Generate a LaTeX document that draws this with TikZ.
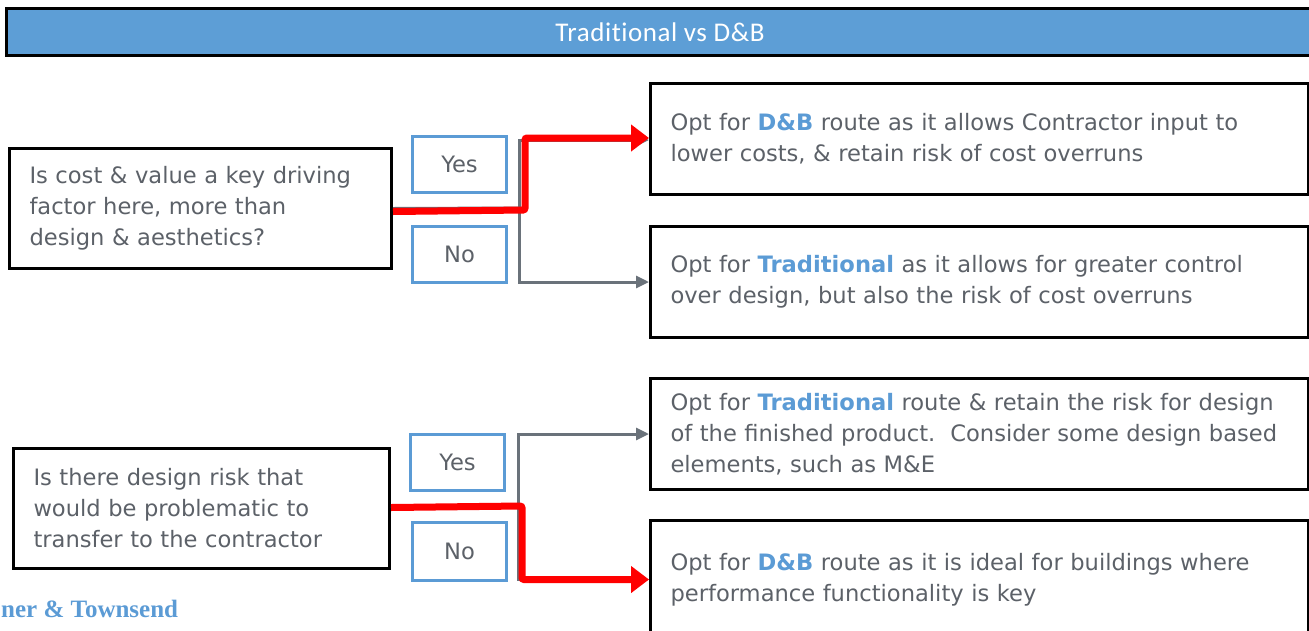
\documentclass[tikz,border=0pt]{standalone}
\usepackage{fontspec}
\setmainfont{DejaVu Sans}
\newfontfamily\hdfont[LetterSpace=2,Ligatures=NoCommon]{Carlito}
\newfontfamily\logofont{Liberation Serif}
\usetikzlibrary{arrows.meta,positioning}
\definecolor{hdblue}{RGB}{93,158,214}
\definecolor{keyblue}{RGB}{91,155,213}
\definecolor{txtgray}{RGB}{92,97,104}
\definecolor{linkgray}{RGB}{106,114,122}
\newcommand{\key}[1]{\textbf{\color{keyblue}#1}}

\begin{document}
\begin{tikzpicture}[x=1pt,y=-1pt,
  every node/.style={font=\fontsize{22.6}{31}\selectfont, text=txtgray},
  qbox/.style={draw=black, line width=3pt, anchor=north west, align=left,
    text width=#1, inner xsep=20pt, minimum height=120pt},
  abox/.style={draw=black, line width=3pt, anchor=north west, align=left,
    text width=618pt, inner xsep=20pt, minimum height=111pt},
  ybox/.style={draw=keyblue, line width=3pt, anchor=north west,
    minimum width=94pt, minimum height=56pt},
  link/.style={draw=linkgray, line width=3pt, -{Triangle[length=13pt,width=12pt]}},
  hot/.style={draw=red, line width=7pt, rounded corners=2pt,
    -{Triangle[length=18pt,width=26pt]}}]
\useasboundingbox (0,0) rectangle (1309,630);

% header
\node[draw=black, line width=3pt, fill=hdblue, anchor=north west,
  minimum width=1307pt, minimum height=47pt,
  font=\hdfont\fontsize{27}{30}\selectfont, text=white] (head) at (5,7) {Traditional vs D\&B};

% first question
\node[qbox=342pt] (q1) at (8,147) {Is cost \& value a key driving\\factor here, more than\\design \& aesthetics?};
\node[ybox] (yes1) at (411,135) {Yes};
\node[ybox] (no1) at (411,225) {No};
\node[abox] (a1) at (649,82) {Opt for \key{D\&B} route as it allows Contractor input to\\lower costs, \& retain risk of cost overruns};
\node[abox] (a2) at (649,225) {Opt for \key{Traditional} as it allows for greater control\\over design, but also the risk of cost overruns};

\coordinate (j1) at (519,208);
\coordinate (r1) at (525,210);
\draw[link, -] (q1.east) -- (j1);
\draw[link] (j1) |- ([yshift=-1pt]a1.west);
\draw[link] (j1) |- (a2.west);
\draw[hot] ([yshift=-3pt]q1.east) -- (r1) |- ([yshift=1pt]a1.west);

% second question
\node[qbox=336pt] (q2) at (12,447) {Is there design risk that\\would be problematic to\\transfer to the contractor};
\node[ybox] (yes2) at (409,433) {Yes};
\node[ybox, minimum height=58pt] (no2) at (411,521) {No};
\node[abox] (a3) at (649,377) {Opt for \key{Traditional} route \& retain the risk for design\\of the finished product.\ \ Consider some design based\\elements, such as M\&E};
\node[abox, minimum height=118pt] (a4) at (649,519) {Opt for \key{D\&B} route as it is ideal for buildings where\\performance functionality is key};

\coordinate (j2) at (518,507);
\coordinate (r2) at (522,506);
\draw[link, -] (q2.east) -- (j2);
\draw[link] (j2) |- (a3.west);
\draw[link] (j2) |- (a4.west);
\draw[hot] ([yshift=1pt]q2.east) -- (r2) |- (a4.west);

% logo
\node[anchor=base west, inner sep=0pt, text=keyblue,
  font=\logofont\bfseries\fontsize{25}{28}\selectfont] (logo) at (1,617) {ner \& Townsend};
\end{tikzpicture}
\end{document}
